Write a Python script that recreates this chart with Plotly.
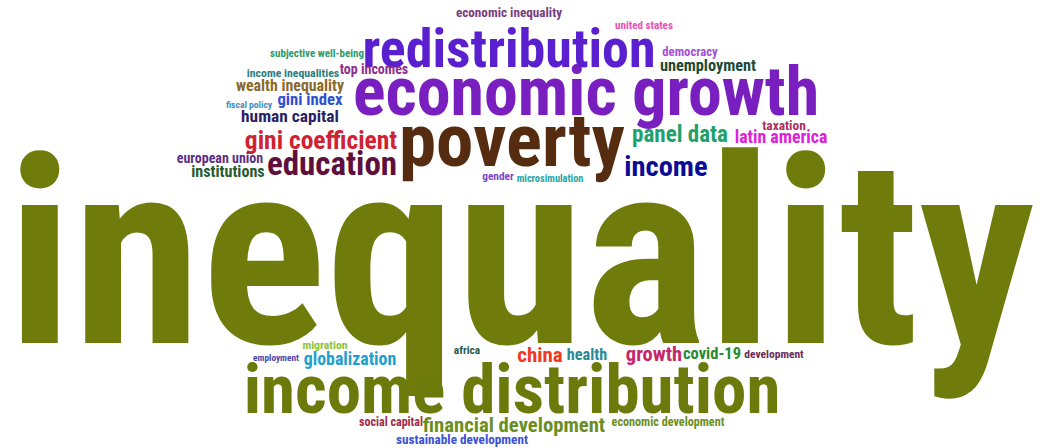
import plotly.graph_objects as go

# keywords and their relative weight in the cloud
words = [
    "inequality", "economic growth", "income distribution", "poverty",
    "redistribution", "education", "income", "gini coefficient",
    "panel data", "financial development", "china", "growth",
    "latin america", "globalization", "human capital", "unemployment",
    "gini index", "institutions", "covid-19", "health",
    "wealth inequality", "european union", "top incomes", "taxation",
    "economic inequality", "sustainable development", "democracy",
    "economic development", "social capital", "income inequalities",
    "migration", "development", "africa", "gender",
    "subjective well-being", "united states", "microsimulation",
    "fiscal policy", "employment",
]
weights = [
    261, 68, 69, 75,
    54, 33, 28.5, 25.5,
    23, 20.7, 21, 20.5,
    17.8, 17.8, 17.4, 16.3,
    16.7, 16.1, 16.5, 16.2,
    15.9, 14, 14, 13.4,
    13.2, 13.2, 12.7,
    12.2, 12, 11.8,
    11.8, 11.5, 11.4, 11.4,
    11, 11.1, 10.3,
    9.6, 9.3,
]

# placement of each word (centre x, baseline y, in pixels)
x_pos = [
    521, 586, 512, 512,
    509, 332, 666, 321,
    680, 514, 540, 654,
    781, 350, 290, 708,
    310, 228, 712, 587,
    290, 220, 374, 784,
    509, 462, 690,
    668, 391, 293,
    325, 774, 467, 498,
    317, 644, 550,
    249, 276,
]
baseline = [
    343, 115, 413, 166,
    67, 175, 176, 149,
    142, 432, 362, 361,
    143, 365, 122, 71,
    105, 177, 359, 360,
    91, 163, 74, 130,
    17, 444, 56,
    426, 426, 77,
    349, 358, 354, 180,
    57, 29, 182,
    108, 361,
]
colors = [
    "#6f7c0b", "#7a1fbf", "#6b7a0b", "#562c10",
    "#5a1fcf", "#5f0f3c", "#0b0b93", "#cf2233",
    "#22a06b", "#6b8e23", "#f0381f", "#c4286a",
    "#e020d8", "#1ea0cc", "#2b1f66", "#1d4b35",
    "#3050d0", "#2a5a2d", "#2a8a30", "#2a8a96",
    "#8a6a2b", "#5c2e80", "#8d2f8d", "#b0305c",
    "#7a3c7e", "#3c4fd6", "#a64fd6",
    "#6b8e23", "#a42a48", "#2b7d80",
    "#8dc33a", "#6a2b5c", "#2a5a48", "#7a48c8",
    "#2f9a68", "#ee4fb4", "#27a5a5",
    "#3a90c8", "#4848a8",
]

W, H = 1041, 448

# plotly puts the baseline a quarter of the font size below the anchor
y_pos = [b - 0.25 * s for b, s in zip(baseline, weights)]

fig = go.Figure(go.Scatter(
    x=x_pos,
    y=y_pos,
    mode="text",
    text=words,
    textposition="middle center",
    textfont=dict(
        family="Roboto Condensed, Open Sans Condensed, DejaVu Sans Condensed, sans-serif",
        size=weights,
        color=colors,
        weight="bold",
    ),
    hoverinfo="text",
    cliponaxis=False,
))

fig.update_xaxes(range=[0, W], visible=False, fixedrange=True)
fig.update_yaxes(range=[H, 0], visible=False, fixedrange=True)
fig.update_layout(
    width=W, height=H,
    margin=dict(l=0, r=0, t=0, b=0),
    paper_bgcolor="white",
    plot_bgcolor="white",
    showlegend=False,
)

# drop the browser's default page margin so the figure sits at 0,0
fig.write_html(
    "out.html",
    config={"displayModeBar": False},
    post_script="document.body.style.margin='0';document.body.style.overflow='hidden';",
)
